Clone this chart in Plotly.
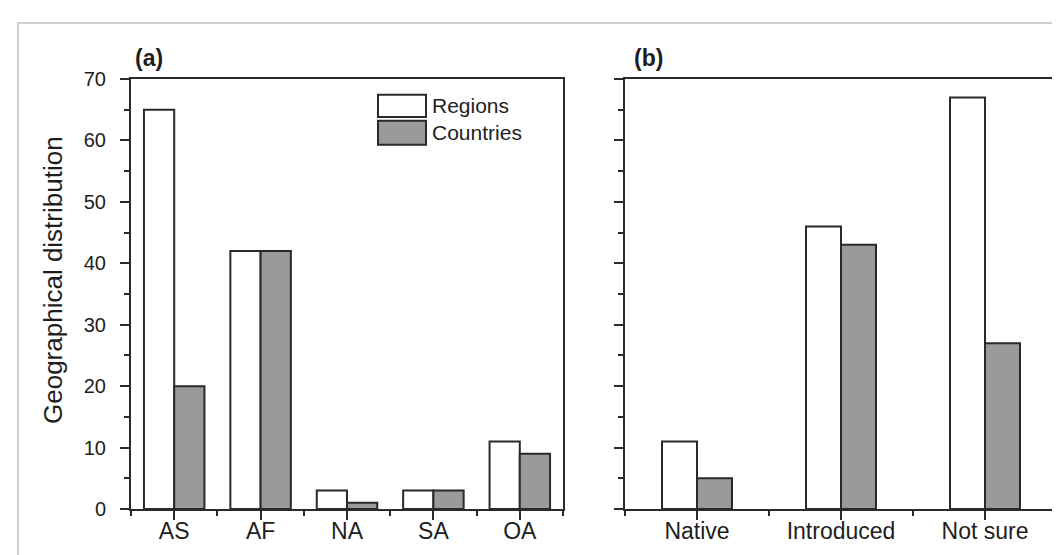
import plotly.graph_objects as go

# ---- data ----
cats_a = ["AS", "AF", "NA", "SA", "OA"]
regions_a = [65, 42, 3, 3, 11]
countries_a = [20, 42, 1, 3, 9]

cats_b = ["Native", "Introduced", "Not sure"]
regions_b = [11, 46, 67]
countries_b = [5, 43, 27]

y_ticks = [0, 10, 20, 30, 40, 50, 60, 70]
y_title = "Geographical distribution"
series_names = ["Regions", "Countries"]

# ---- style ----
FONT = "Liberation Sans, Arial, Helvetica, sans-serif"
TXT = "#1e1e1e"
LINE = "#2a2a2a"
GREY = "#9a9a9a"
W, H = 1060, 555
ML, MR, MT, MB = 123, 11, 71, 54

fig = go.Figure()

xa = list(range(len(cats_a)))
xb = list(range(len(cats_b)))
wa, wb = 0.35, 0.243
BL = dict(color=LINE, width=2)

fig.add_trace(go.Bar(x=xa, y=regions_a, name=series_names[0], width=wa, offset=-wa,
                     marker=dict(color="white", line=BL),
                     xaxis="x", yaxis="y", showlegend=False))
fig.add_trace(go.Bar(x=xa, y=countries_a, name=series_names[1], width=wa, offset=0,
                     marker=dict(color=GREY, line=BL),
                     xaxis="x", yaxis="y", showlegend=False))
fig.add_trace(go.Bar(x=xb, y=regions_b, name=series_names[0], width=wb, offset=-wb,
                     marker=dict(color="white", line=BL),
                     xaxis="x2", yaxis="y2", showlegend=False))
fig.add_trace(go.Bar(x=xb, y=countries_b, name=series_names[1], width=wb, offset=0,
                     marker=dict(color=GREY, line=BL),
                     xaxis="x2", yaxis="y2", showlegend=False))

plot_w = W - ML - MR
ph = H - MT - MB
dom_a = [0, 432 / plot_w]
dom_b = [(617 - ML) / plot_w, 1]

def xaxis(cats, domain, anchor):
    n = len(cats)
    return dict(domain=domain, anchor=anchor, range=[-0.5, n - 0.5],
                tickmode="array", tickvals=list(range(n)), ticktext=cats,
                ticks="outside", ticklen=9, tickwidth=2, tickcolor=LINE,
                ticklabelstandoff=-9,
                minor=dict(tickmode="array", tickvals=[i - 0.5 for i in range(n + 1)],
                           ticks="outside", ticklen=5, tickwidth=2, tickcolor=LINE),
                showline=True, linecolor=LINE, linewidth=2, mirror=True,
                showgrid=False, zeroline=False,
                tickfont=dict(family=FONT, size=23, color=TXT))

def yaxis(anchor, labels):
    return dict(domain=[0, 1], anchor=anchor, range=[0, 70],
                tickmode="array", tickvals=y_ticks, showticklabels=labels,
                ticks="outside", ticklen=9, tickwidth=2, tickcolor=LINE,
                ticklabelstandoff=10,
                minor=dict(dtick=5, tick0=0, ticks="outside", ticklen=5,
                           tickwidth=2, tickcolor=LINE),
                showline=True, linecolor=LINE, linewidth=2, mirror=True,
                showgrid=False, zeroline=False,
                tickfont=dict(family=FONT, size=20, color=TXT))

fig.update_layout(
    width=W, height=H,
    margin=dict(l=ML, r=MR, t=MT, b=MB, autoexpand=False),
    paper_bgcolor="white", plot_bgcolor="white",
    barmode="overlay",
    xaxis=xaxis(cats_a, dom_a, "y"),
    yaxis=yaxis("x", True),
    xaxis2=xaxis(cats_b, dom_b, "y2"),
    yaxis2=yaxis("x2", False),
    font=dict(family=FONT, color=TXT),
)

# outer light border (open at bottom/right beyond the image edge)
fig.add_shape(type="rect", xref="paper", yref="paper",
              x0=(10 - ML) / plot_w, x1=(1080 - ML) / plot_w,
              y0=-(MB + 30) / ph, y1=1 + (MT - 15) / ph,
              line=dict(color="#cfcfcf", width=2), layer="below")

# panel labels
fig.add_annotation(text="<b>(a)</b>", xref="x domain", yref="y domain",
                   x=2 / 432, y=1, xanchor="left", yanchor="bottom", yshift=6,
                   showarrow=False, font=dict(family=FONT, size=23, color=TXT))
fig.add_annotation(text="<b>(b)</b>", xref="x2 domain", yref="y2 domain",
                   x=7 / 432, y=1, xanchor="left", yanchor="bottom", yshift=6,
                   showarrow=False, font=dict(family=FONT, size=23, color=TXT))

# y title
fig.add_annotation(text=y_title, xref="paper", yref="paper",
                   x=(45 - ML) / plot_w, y=(501 - 272) / ph, textangle=-90,
                   xanchor="center", yanchor="middle", showarrow=False,
                   font=dict(family=FONT, size=26, color=TXT))

# legend (swatches + labels) inside panel a
leg = [("white", 86.7, 109, series_names[0]), (GREY, 112.7, 136.7, series_names[1])]
for col, top, bot, name in leg:
    fig.add_shape(type="rect", xref="x domain", yref="y domain",
                  x0=(370 - ML) / 432, x1=(418 - ML) / 432,
                  y0=(501 - bot) / ph, y1=(501 - top) / ph,
                  fillcolor=col, line=dict(color=LINE, width=2))
    fig.add_annotation(text=name, xref="x domain", yref="y domain",
                       x=(422 - ML) / 432, y=(501 - (top + bot) / 2) / ph,
                       xanchor="left", yanchor="middle", showarrow=False,
                       font=dict(family=FONT, size=21, color=TXT))

fig.write_html("out.html")
